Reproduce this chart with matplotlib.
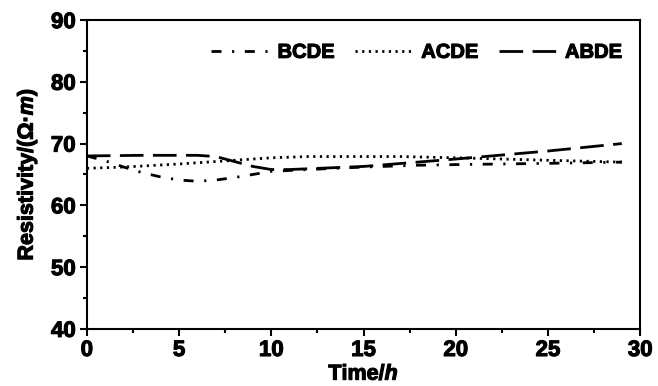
import numpy as np
import matplotlib.pyplot as plt
import matplotlib.patheffects as pe
from matplotlib.ticker import MultipleLocator

plt.rcParams['font.family'] = ['Liberation Sans', 'DejaVu Sans']
plt.rcParams['font.weight'] = 'bold'
plt.rcParams['mathtext.fontset'] = 'custom'
plt.rcParams['mathtext.it'] = 'Liberation Sans:italic:bold'
plt.rcParams['mathtext.rm'] = 'Liberation Sans:bold'

# 讀圖估計的數據
t_bcde = [0, 1, 2, 3, 4, 5, 6, 7, 8, 9, 10, 12, 15, 18, 20, 25, 29]
r_bcde = [68.0, 67.2, 66.2, 65.3, 64.6, 64.1, 63.9, 64.1, 64.5, 65.0, 65.5, 65.8, 66.2, 66.5, 66.6, 66.8, 67.0]

t_acde = [0, 2, 5, 7, 10, 12, 15, 17, 20, 25, 29]
r_acde = [66.0, 66.2, 66.7, 67.1, 67.7, 67.9, 67.9, 67.9, 67.7, 67.3, 67.0]

t_abde = [0, 3, 6, 7, 8, 9, 10, 11, 15, 20, 25, 29]
r_abde = [68.0, 68.1, 68.1, 67.9, 67.1, 66.3, 65.8, 65.8, 66.3, 67.5, 68.8, 70.0]

fig = plt.figure(figsize=(6.58, 3.86), dpi=100)
ax = fig.add_axes([0.132, 0.148, 0.841, 0.80])

ax.plot(t_bcde, r_bcde, color='black', lw=2, dashes=(3.6, 3.8, 0.8, 3.8), label='BCDE')
ax.plot(t_acde, r_acde, color='black', lw=2, dashes=(0.8, 1.6), label='ACDE')
ax.plot(t_abde, r_abde, color='black', lw=2, dashes=(8.5, 3.4), label='ABDE')

ax.set_xlim(0, 30)
ax.set_ylim(40, 90)
ax.xaxis.set_major_locator(MultipleLocator(5))
ax.xaxis.set_minor_locator(MultipleLocator(2.5))
ax.yaxis.set_major_locator(MultipleLocator(10))
ax.yaxis.set_minor_locator(MultipleLocator(5))
ax.tick_params(which='both', direction='out', width=1.5, labelsize=16, top=False, right=False)
ax.tick_params(which='major', length=5, pad=3)
ax.tick_params(which='minor', length=3)
for s in ax.spines.values():
    s.set_linewidth(1.5)

ax.set_xlabel('Time/$h$', fontsize=15.5, fontweight='bold', labelpad=2)
ax.set_ylabel(r'Resistivity/($\mathit{Ω}$·$m$)', fontsize=15.5, fontweight='bold', labelpad=8)

leg = ax.legend(loc='upper right', ncol=3, frameon=False, handlelength=3.0,
                handletextpad=0.3, columnspacing=1.0, bbox_to_anchor=(1.0, 0.985),
                prop={'weight': 'bold', 'size': 14.5})

# 加粗字體（原圖字較粗）
heavy = [pe.withStroke(linewidth=0.8, foreground='black')]
texts = ax.get_xticklabels() + ax.get_yticklabels() + leg.get_texts()
texts += [ax.xaxis.label, ax.yaxis.label]
for t in texts:
    t.set_path_effects(heavy)

fig.savefig('out.png', dpi=100)
